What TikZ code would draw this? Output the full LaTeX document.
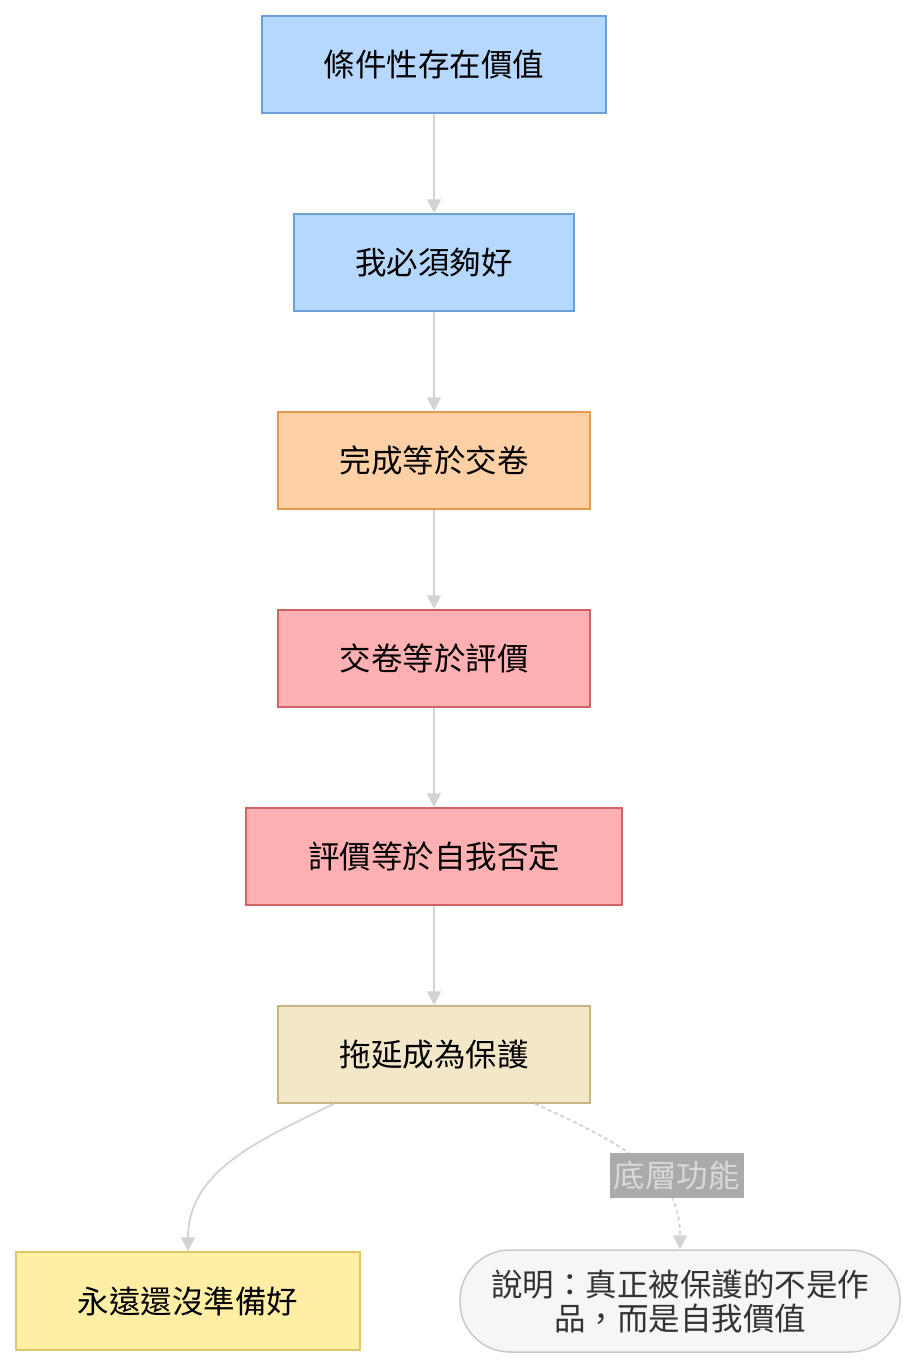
\documentclass[tikz,border=0pt]{standalone}
\usepackage{fontspec}
\setmainfont{Noto Sans CJK TC}
\usepackage{tikz}
\usetikzlibrary{arrows.meta,positioning}
\definecolor{flowblue}{HTML}{B7D8FE}
\definecolor{flowblueline}{HTML}{6C9FDA}
\definecolor{floworange}{HTML}{FDD0A6}
\definecolor{floworangeline}{HTML}{E39A50}
\definecolor{flowred}{HTML}{FFB0B2}
\definecolor{flowredline}{HTML}{D26365}
\definecolor{flowsand}{HTML}{F3E7CA}
\definecolor{flowsandline}{HTML}{C9B583}
\definecolor{flowyellow}{HTML}{FFEFA4}
\definecolor{flowyellowline}{HTML}{DEC766}
\definecolor{notefill}{HTML}{F6F6F6}
\definecolor{noteline}{HTML}{C9C9C9}
\definecolor{linkgray}{HTML}{D3D3D3}
\definecolor{tagfill}{HTML}{AAAAAA}
\definecolor{tagtext}{HTML}{D9D9D9}
\tikzset{
  flowbox/.style={
    draw,
    line width=1.5pt,
    text=black,
    align=center,
    minimum height=97pt,
    inner sep=0pt,
    font=\fontsize{31.5pt}{34pt}\selectfont
  },
  boxblue/.style={flowbox, draw=flowblueline, fill=flowblue},
  boxorange/.style={flowbox, draw=floworangeline, fill=floworange},
  boxred/.style={flowbox, draw=flowredline, fill=flowred},
  boxsand/.style={flowbox, draw=flowsandline, fill=flowsand},
  boxyellow/.style={flowbox, draw=flowyellowline, fill=flowyellow},
  notebox/.style={flowbox, draw=noteline, fill=notefill, text=black!80,
    rounded corners=50pt, minimum width=440pt, minimum height=102pt},
  flowarrow/.style={-{Triangle[length=14pt,width=14pt]}, draw=linkgray, line width=1.8pt},
  notearrow/.style={flowarrow, dashed, dash pattern=on 4pt off 3pt},
  taglabel/.style={fill=tagfill, text=tagtext, inner sep=2pt,
    minimum width=134pt, minimum height=45pt,
    font=\fontsize{31.5pt}{34pt}\selectfont}
}
\begin{document}
\begin{tikzpicture}[x=1pt, y=1pt, node distance=99.5pt]
  \useasboundingbox (0,0) rectangle (916,-1370);

  \node[boxblue, minimum width=344pt] (cond) at (434,-64.5) {條件性存在價值};
  \node[boxblue, minimum width=280pt, below=of cond] (good) {我必須夠好};
  \node[boxorange, minimum width=312pt, below=of good] (done) {完成等於交卷};
  \node[boxred, minimum width=312pt, below=of done] (judge) {交卷等於評價};
  \node[boxred, minimum width=376pt, below=of judge] (deny) {評價等於自我否定};
  \node[boxsand, minimum width=312pt, below=of deny] (delay) {拖延成為保護};
  \node[boxyellow, minimum width=344pt, minimum height=98pt] (ready) at (188,-1301) {永遠還沒準備好};
  \node[notebox] (note) at (680,-1301) {說明：真正被保護的不是作\\品，而是自我價值};

  \draw[flowarrow] (cond) -- (good);
  \draw[flowarrow] (good) -- (done);
  \draw[flowarrow] (done) -- (judge);
  \draw[flowarrow] (judge) -- (deny);
  \draw[flowarrow] (deny) -- (delay);
  \draw[flowarrow] ([xshift=-100pt]delay.south) to[out=-154, in=90] (ready.north);
  \draw[notearrow] ([xshift=101pt]delay.south) .. controls (650,-1155) and (680,-1185) ..
    node[taglabel, pos=0.55, xshift=20pt, yshift=3pt] {底層功能} (note.north);
\end{tikzpicture}
\end{document}
